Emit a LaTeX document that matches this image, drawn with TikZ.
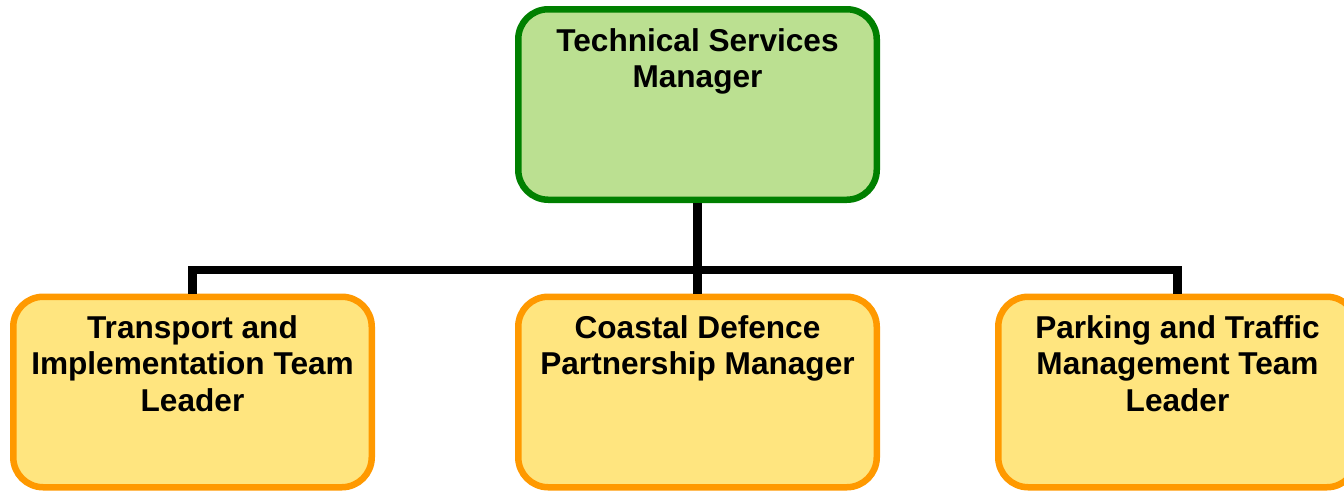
\documentclass[tikz,border=0pt]{standalone}
\usepackage{fontspec}
\setmainfont{Liberation Sans}
\definecolor{topfill}{RGB}{187,224,145}
\definecolor{topline}{RGB}{0,128,0}
\definecolor{subfill}{RGB}{255,229,127}
\definecolor{subline}{RGB}{255,153,0}
\tikzset{
  orgbox/.style={draw, rectangle, rounded corners=30pt, line width=6.5pt,
    minimum width=358.5pt, minimum height=190.5pt, inner sep=0pt, anchor=north},
  topbox/.style={orgbox, draw=topline, fill=topfill},
  subbox/.style={orgbox, draw=subline, fill=subfill},
  lbl/.style={anchor=north, inner sep=0pt, align=center,
    font=\bfseries\fontsize{31.6}{36.3}\selectfont},
  conn/.style={draw=black, line width=8.5pt, line join=miter, line cap=butt}
}
\begin{document}
\begin{tikzpicture}[x=1pt,y=-1pt]
\clip (0,0) rectangle (1344,491);
\fill[white] (0,0) rectangle (1344,491);
\node[topbox] (top) at (697.5,6) {};
\node[subbox] (b1) at (192.5,293.5) {};
\node[subbox] (b2) at (697.5,293.5) {};
\node[subbox] (b3) at (1177.5,293.5) {};
\coordinate (bus) at (697.5,270);
\draw[conn] (top.south) -- (b2.north);
\draw[conn] (b1.north) -- (b1.north |- bus) -- (b3.north |- bus) -- (b3.north);
\node[lbl] (ttop) at ([yshift=-22pt]top.north) {Technical Services\\Manager};
\node[lbl] (t1) at ([yshift=-22pt]b1.north) {Transport and\\Implementation Team\\Leader};
\node[lbl] (t2) at ([yshift=-22pt]b2.north) {Coastal Defence\\Partnership Manager};
\node[lbl] (t3) at ([yshift=-22pt]b3.north) {Parking and Traffic\\Management Team\\Leader};
\end{tikzpicture}
\end{document}
